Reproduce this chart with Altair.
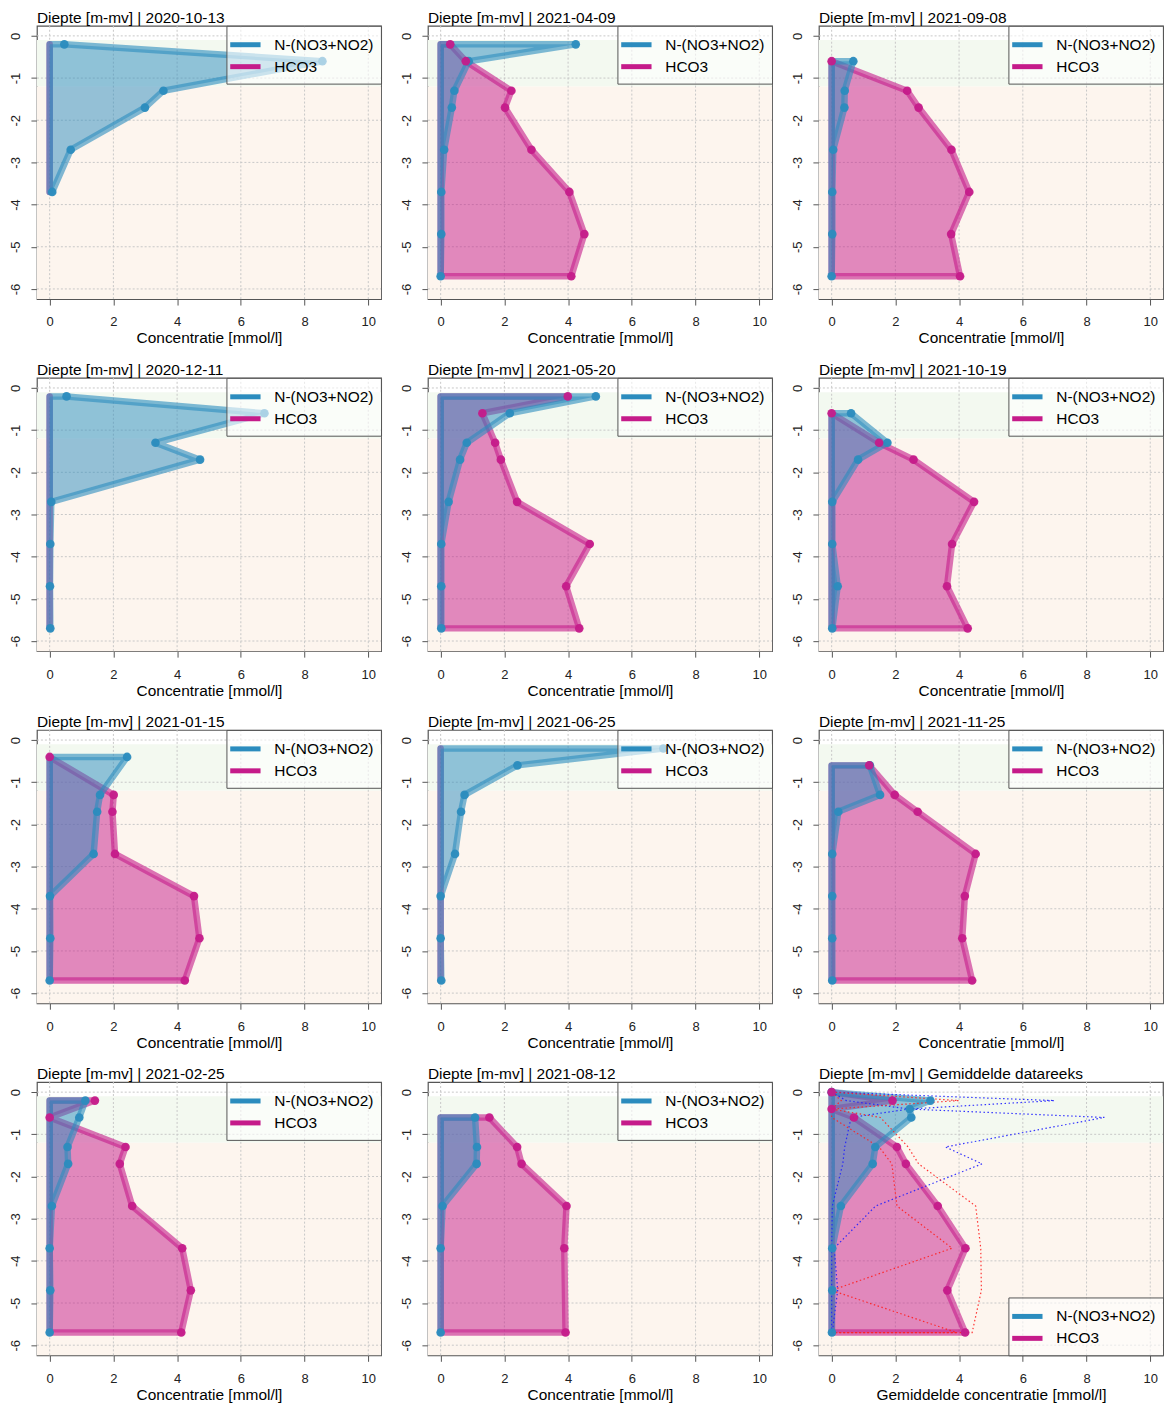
import altair as alt
import pandas as pd

FONT = "Liberation Sans"
BLUE = "#2b8cbe"
PINK = "#c51b8a"
NO3_LABEL = "N-(NO3+NO2)"
HCO3_LABEL = "HCO3"

# ---- data -----------------------------------------------------------------
X_TICKS = [0, 2, 4, 6, 8, 10]
Y_TICKS = [0, -1, -2, -3, -4, -5, -6]
BAND_GREEN = [-0.1, -1.2]       # top, bottom of upper zone (m-mv)
BAND_ORANGE = [-1.2, -6.24]     # top, bottom of lower zone

D8 = [-0.2, -0.6, -1.3, -1.7, -2.7, -3.7, -4.7, -5.7]
D7 = [-0.6, -1.3, -1.7, -2.7, -3.7, -4.7, -5.7]

D_20201013 = [-0.2, -0.6, -1.3, -1.7, -2.7, -3.7]
N_20201013 = [0.46, 8.56, 3.57, 2.99, 0.66, 0.08]
H_20201013 = [None, None, None, None, None, None]

D_20201211 = D8
N_20201211 = [0.53, 6.74, 3.32, 4.72, 0.05, 0.02, 0.01, 0.02]
H_20201211 = [None] * 8

D_20210115 = [-0.4, -1.3, -1.7, -2.7, -3.7, -4.7, -5.7]
N_20210115 = [2.43, 1.58, 1.49, 1.38, 0.01, 0.02, 0.0]
H_20210115 = [0.0, 2.01, 1.97, 2.05, 4.53, 4.70, 4.24]

D_20210225 = D8
N_20210225 = [1.12, 0.93, 0.56, 0.58, 0.07, 0.0, 0.02, 0.0]
H_20210225 = [1.42, 0.0, 2.38, 2.20, 2.59, 4.16, 4.43, 4.13]

D_20210409 = D8
N_20210409 = [4.24, 0.88, 0.43, 0.35, 0.11, 0.02, 0.02, 0.0]
H_20210409 = [0.30, 0.79, 2.22, 2.02, 2.85, 4.04, 4.51, 4.10]

D_20210520 = D8
N_20210520 = [4.87, 2.17, 0.82, 0.61, 0.25, 0.02, 0.02, 0.02]
H_20210520 = [3.99, 1.31, 1.71, 1.89, 2.40, 4.68, 3.94, 4.35]

D_20210625 = D8
N_20210625 = [6.99, 2.41, 0.75, 0.64, 0.45, 0.0, 0.0, 0.02]
H_20210625 = [None] * 8

D_20210812 = [-0.6, -1.3, -1.7, -2.7, -3.7, -5.7]
N_20210812 = [1.08, 1.14, 1.13, 0.06, 0.0, 0.0]
H_20210812 = [1.53, 2.40, 2.54, 3.95, 3.88, 3.92]

D_20210908 = D7
N_20210908 = [0.68, 0.41, 0.40, 0.05, 0.02, 0.02, 0.0]
H_20210908 = [0.0, 2.37, 2.73, 3.76, 4.32, 3.75, 4.03]

D_20211019 = D7
N_20211019 = [0.61, 1.75, 0.83, 0.02, 0.02, 0.19, 0.02]
H_20211019 = [0.0, 1.49, 2.57, 4.47, 3.78, 3.62, 4.27]

D_20211125 = D7
N_20211125 = [1.20, 1.52, 0.21, 0.02, 0.02, 0.02, 0.02]
H_20211125 = [1.18, 1.98, 2.70, 4.52, 4.18, 4.10, 4.41]

# averaged series
D_AVG = [0.0, -0.2, -0.4, -0.6, -1.3, -1.7, -2.7, -3.7, -4.7, -5.7]
N_AVG = [0.0, 3.10, 2.45, 2.50, 1.37, 1.29, 0.29, 0.02, 0.02, 0.01]
H_AVG = [0.0, 1.91, 0.0, 0.70, 2.05, 2.33, 3.33, 4.20, 3.63, 4.19]

# envelope (max / min) lines of the averaged panel
D_ENV = [0.0, -0.2, -0.4, -0.6, -1.3, -1.7, -2.7, -3.7, -4.7, -5.7, -5.7]
N_MAX = [0.0, 6.99, 2.43, 8.56, 3.57, 4.72, 1.38, 0.08, 0.19, 0.02, 0.0]
N_MIN = [0.0, 0.46, 2.43, 0.61, 0.41, 0.35, 0.02, 0.0, 0.0, 0.0, 0.0]
H_MAX = [0.0, 3.99, 0.0, 1.53, 2.40, 2.73, 4.52, 4.68, 4.70, 4.41, 0.0]
H_MIN = [0.0, 0.30, 0.0, 0.0, 1.49, 1.89, 2.05, 3.78, 0.0, 3.92, 0.0]

GRID = [
    ["2020-10-13", "2021-04-09", "2021-09-08"],
    ["2020-12-11", "2021-05-20", "2021-10-19"],
    ["2021-01-15", "2021-06-25", "2021-11-25"],
    ["2021-02-25", "2021-08-12", "AVG"],
]

SERIES = {
    "2020-10-13": (D_20201013, N_20201013, H_20201013),
    "2020-12-11": (D_20201211, N_20201211, H_20201211),
    "2021-01-15": (D_20210115, N_20210115, H_20210115),
    "2021-02-25": (D_20210225, N_20210225, H_20210225),
    "2021-04-09": (D_20210409, N_20210409, H_20210409),
    "2021-05-20": (D_20210520, N_20210520, H_20210520),
    "2021-06-25": (D_20210625, N_20210625, H_20210625),
    "2021-08-12": (D_20210812, N_20210812, H_20210812),
    "2021-09-08": (D_20210908, N_20210908, H_20210908),
    "2021-10-19": (D_20211019, N_20211019, H_20211019),
    "2021-11-25": (D_20211125, N_20211125, H_20211125),
    "AVG": (D_AVG, N_AVG, H_AVG),
}

# ---- styling ----------------------------------------------------------------
W, H = 345, 274
XS = alt.Scale(domain=[-0.4, 10.4], nice=False, zero=False)
YS = alt.Scale(domain=[-6.24, 0.24], nice=False, zero=False)


def x_axis(title):
    return alt.Axis(values=X_TICKS, grid=False, domain=False, tickColor="#555",
                    tickSize=6, tickWidth=1, labelFont=FONT, labelFontSize=13,
                    labelColor="#222", labelPadding=11, labelFlush=False,
                    labelOverlap=False, title=title, titleFont=FONT,
                    titleFontSize=15.5, titleFontWeight="normal",
                    titleColor="black", titlePadding=2)


Y_AXIS = alt.Axis(values=Y_TICKS, grid=False, domain=False, tickColor="#555",
                  tickSize=6, tickWidth=1, labelAngle=270, labelAlign="center",
                  labelBaseline="bottom", labelPadding=8, labelFont=FONT,
                  labelFontSize=13, labelColor="#222", labelFlush=False,
                  labelOverlap=False, labelExpr="'' + datum.value",
                  title=None, minExtent=28, maxExtent=28)


def panel(key):
    depth, no3, hco3 = SERIES[key]
    df = pd.DataFrame({"depth": depth, "no3": no3, "hco3": hco3})
    is_avg = key == "AVG"
    title = "Diepte [m-mv] | " + ("Gemiddelde datareeks" if is_avg else key)
    xtitle = "Gemiddelde concentratie [mmol/l]" if is_avg else "Concentratie [mmol/l]"
    XA = x_axis(xtitle)

    def X(field, **kw):
        return alt.X(field, scale=XS, axis=XA, **kw)

    def Y(field):
        return alt.Y(field, scale=YS, axis=Y_AXIS)

    green = alt.Chart(pd.DataFrame({"top": [BAND_GREEN[0]], "bot": [BAND_GREEN[1]]})).mark_rect(
        color="#f3f9f0").encode(
        x=alt.value(0), x2=alt.value(W), y=Y("top:Q"), y2="bot:Q")
    orange = alt.Chart(pd.DataFrame({"top": [BAND_ORANGE[0]], "bot": [BAND_ORANGE[1]]})).mark_rect(
        color="#fdf5ee").encode(
        x=alt.value(0), x2=alt.value(W), y=Y("top:Q"), y2="bot:Q")

    vgrid = alt.Chart(pd.DataFrame({"gx": X_TICKS})).mark_rule(
        color="#c8c8c8", strokeDash=[2, 2], strokeWidth=1).encode(
        x=X("gx:Q"), y=alt.value(0), y2=alt.value(H))
    hgrid = alt.Chart(pd.DataFrame({"gy": Y_TICKS})).mark_rule(
        color="#c8c8c8", strokeDash=[2, 2], strokeWidth=1).encode(
        y=Y("gy:Q"), x=alt.value(0), x2=alt.value(W))

    base = alt.Chart(df)
    h_area = base.transform_calculate(
        hv="isValid(datum.hco3) ? datum.hco3 : 0").mark_area(
        orient="horizontal", color=PINK, fillOpacity=0.5, stroke=PINK,
        strokeOpacity=0.6, strokeWidth=6.5, strokeJoin="round", strokeCap="round").encode(
        x=X("hv:Q", stack=None), x2=alt.datum(0), y=Y("depth:Q"))
    n_area = base.mark_area(
        orient="horizontal", color=BLUE, fillOpacity=0.5, stroke=BLUE,
        strokeOpacity=0.6, strokeWidth=6.5, strokeJoin="round", strokeCap="round").encode(
        x=X("no3:Q", stack=None), x2=alt.datum(0), y=Y("depth:Q"))
    n_pts = base.transform_filter("isValid(datum.no3)").mark_circle(
        color=BLUE, size=75, opacity=0.95).encode(x=X("no3:Q"), y=Y("depth:Q"))
    h_pts = base.transform_filter("isValid(datum.hco3)").mark_circle(
        color=PINK, size=75, opacity=0.95).encode(x=X("hco3:Q"), y=Y("depth:Q"))

    leg_df = pd.DataFrame({"s": [NO3_LABEL, HCO3_LABEL], "lx": [None, None], "ly": [None, None]})
    legend = alt.Chart(leg_df).mark_line().encode(
        x=X("lx:Q"), y=Y("ly:Q"),
        color=alt.Color("s:N", scale=alt.Scale(domain=[NO3_LABEL, HCO3_LABEL], range=[BLUE, PINK]),
                        legend=alt.Legend(
                            title=None, orient="bottom-right" if is_avg else "top-right",
                            offset=0, padding=7, fillColor="rgba(255,255,255,0.6)",
                            strokeColor="#555", cornerRadius=0,
                            symbolType="M-1.6,0H1.6", symbolSize=361,
                            symbolStrokeWidth=5, labelFont=FONT, labelFontSize=15.5,
                            labelColor="black", labelOffset=17, rowPadding=0)))

    layers = [green, orange, vgrid, hgrid, h_area, n_area]
    if is_avg:
        for vals_pair, col in (((N_MAX, N_MIN), "#1f1fff"), ((H_MAX, H_MIN), "#ff1f1f")):
            env = []
            for kind, vals in zip(("max", "min"), vals_pair):
                for i, (d, v) in enumerate(zip(D_ENV, vals)):
                    env.append({"kind": kind, "i": i, "depth": d, "v": v})
            layers.append(alt.Chart(pd.DataFrame(env)).mark_line(
                color=col, strokeDash=[1.5, 2.5], strokeWidth=1.2, opacity=0.9).encode(
                x=X("v:Q"), y=Y("depth:Q"), detail="kind:N", order="i:Q"))
    layers += [n_pts, h_pts, legend]

    return alt.layer(*layers).properties(
        width=W, height=H,
        title=alt.TitleParams(title, anchor="start", frame="group", font=FONT,
                              fontSize=15.5, fontWeight="normal", color="black", offset=-1))


rows = []
for row in GRID:
    rows.append(alt.hconcat(*[panel(k) for k in row], spacing=16)
                .resolve_scale(color="independent").resolve_legend(color="independent"))

chart = (alt.vconcat(*rows, spacing=14)
         .resolve_scale(color="independent").resolve_legend(color="independent")
         .properties(padding=0, background="white")
         .configure_view(stroke="#555", strokeWidth=1.2))

chart.save("out.html", embed_options={"renderer": "svg", "actions": False})
